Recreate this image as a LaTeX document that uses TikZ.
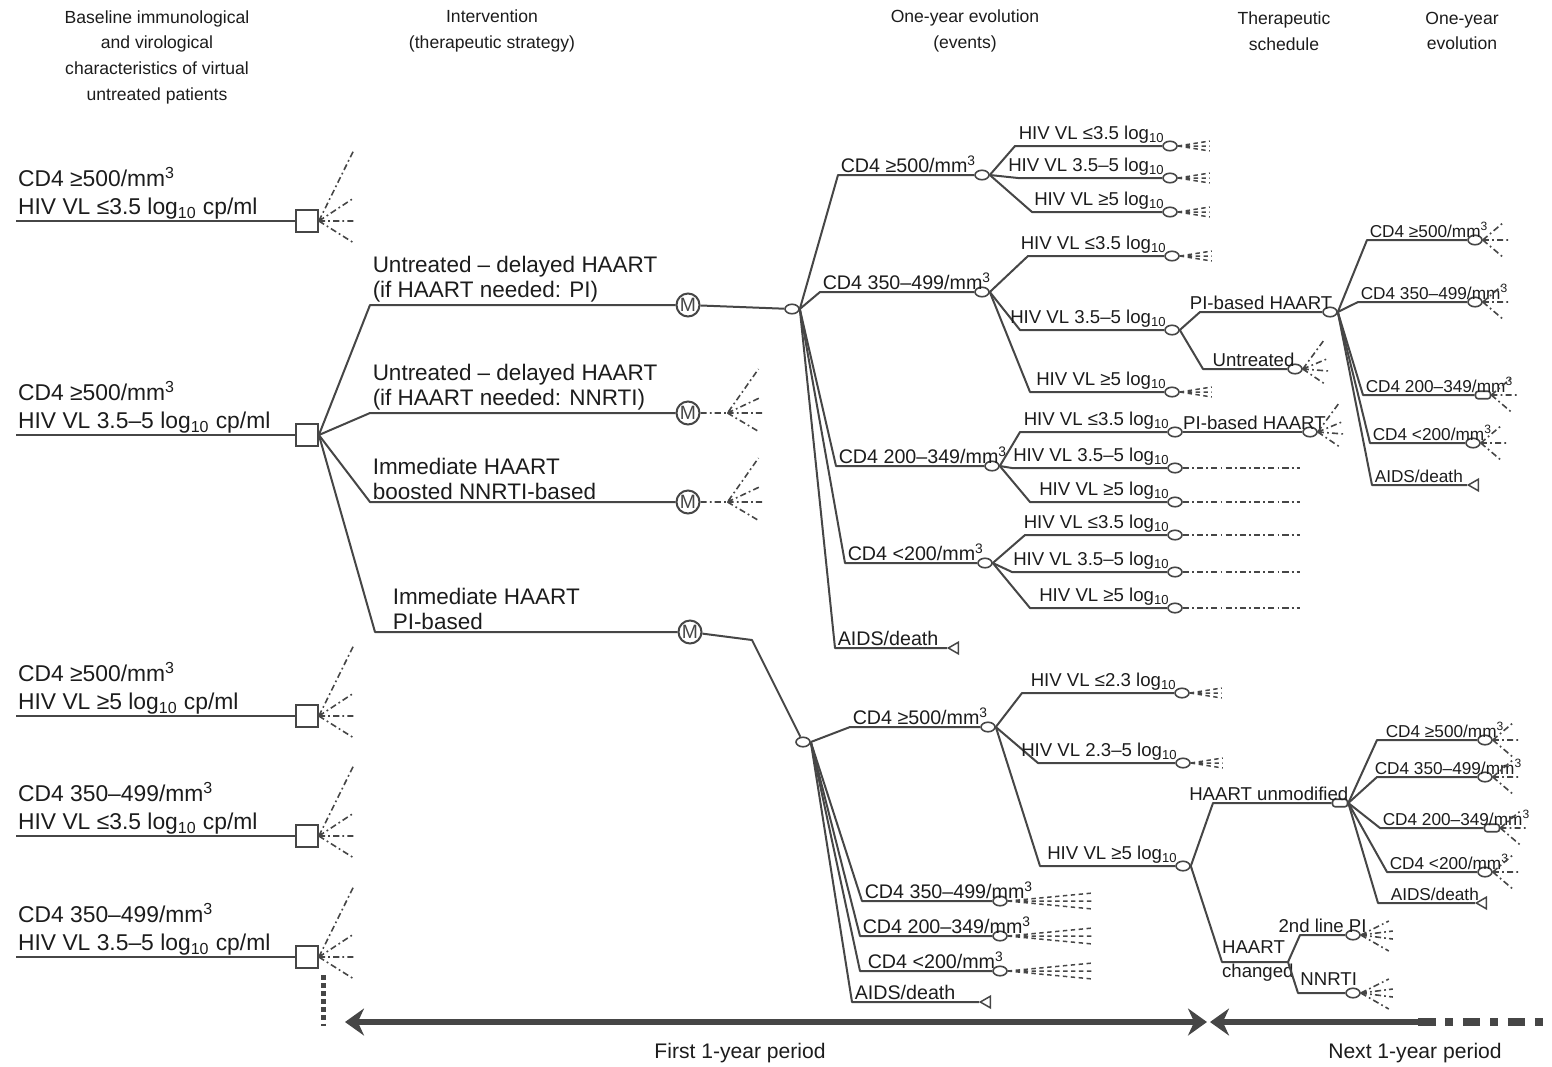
\documentclass[tikz,border=0pt]{standalone}
\usepackage{fontspec}
\setmainfont{Liberation Sans}
\usetikzlibrary{shapes.geometric,arrows.meta}

\definecolor{treegray}{RGB}{70,70,70}
\definecolor{inkgray}{RGB}{28,28,28}

\newcommand{\fhead}{\fontsize{10}{14.6}\selectfont}
\newcommand{\fbase}{\fontsize{13}{16}\selectfont}
\newcommand{\fstrat}{\fontsize{12.8}{14.2}\selectfont}
\newcommand{\fevt}{\fontsize{11.2}{13}\selectfont}
\newcommand{\fhiv}{\fontsize{10.6}{13.6}\selectfont}
\newcommand{\frgt}{\fontsize{9.8}{11}\selectfont}
\newcommand{\lgten}{log\textsubscript{10}}
\newcommand{\permm}{/mm\textsuperscript{3}}

\tikzset{
  branchline/.style={draw=treegray, line width=0.04cm, line join=round},
  fanline/.style={draw=treegray, line width=0.032cm, dash pattern=on 3.5pt off 1.8pt on 1pt off 1.8pt},
  stubline/.style={draw=treegray, line width=0.03cm, dash pattern=on 2.5pt off 2pt},
  headlbl/.style={font=\fhead, text=inkgray, align=center, inner sep=0pt},
  baselbl/.style={font=\fbase, text=inkgray, align=left, inner sep=1pt, anchor=south west},
  strat/.style={font=\fstrat, text=inkgray, align=left, inner sep=1pt},
  evt/.style={font=\fevt, text=inkgray, inner sep=1pt},
  sched/.style={font=\fhiv, text=inkgray, inner sep=1pt},
  hiv/.style={font=\fhiv, text=inkgray, inner sep=1pt, pos=1, above left, xshift=0.1cm},
  rgt/.style={font=\frgt, text=inkgray, inner sep=1pt},
  decision/.style={rectangle, draw=treegray, fill=white, line width=0.035cm, minimum size=0.44cm, inner sep=0pt},
  markov/.style={circle, draw=treegray, line width=0.04cm, minimum size=0.46cm, inner sep=0pt, font=\fontsize{11}{11}\selectfont, text=treegray},
  chance/.style={ellipse, draw=treegray, fill=white, line width=0.032cm, minimum width=0.28cm, minimum height=0.19cm, inner sep=0pt},
  chancebox/.style={rectangle, rounded corners=1.5pt, draw=treegray, fill=white, line width=0.032cm, minimum width=0.3cm, minimum height=0.15cm, inner sep=0pt},
  terminal/.style={isosceles triangle, isosceles triangle apex angle=60, shape border rotate=180, draw=treegray, line width=0.03cm, minimum height=0.2cm, inner sep=0pt},
  periodline/.style={draw=treegray, line width=0.11cm},
  bigfan/.pic={\draw[fanline] (0,0) -- (35,-71) (0,0) -- (35,-23) (0,0) -- (36,0) (0,0) -- (35,22);},
  mfan/.pic={\draw[fanline] (0,0) -- (27,0) -- (58,-44) (27,0) -- (61,-16) (27,0) -- (64,0) (27,0) -- (59,19);},
  smallfan/.pic={\draw[fanline] (0,0) -- (20,-17) (0,0) -- (27,0) (0,0) -- (20,17);},
  upfan/.pic={\draw[fanline] (0,0) -- (22,-30) (0,0) -- (24,-10) (0,0) -- (26,2) (0,0) -- (22,15);},
  densefan/.pic={\draw[fanline] (0,0) -- (28,-14) (0,0) -- (32,-4) (0,0) -- (32,4) (0,0) -- (28,16);},
  stub/.pic={\draw[stubline] (0,0) -- (32,-5) (0,0) -- (32,0) (0,0) -- (32,5);},
  longstub/.pic={\draw[stubline] (0,0) -- (85,-8) (0,0) -- (85,0) (0,0) -- (85,8);},
}

\begin{document}
\begin{tikzpicture}[x=0.02cm, y=-0.02cm]
\useasboundingbox (0,0) rectangle (1552,1066);

% Column headings
\node[headlbl] (hdBase) at (157,57) {Baseline immunological\\and virological\\characteristics of virtual\\untreated patients};
\node[headlbl] (hdStrat) at (492,31) {Intervention\\(therapeutic strategy)};
\node[headlbl] (hdEvt) at (965,31) {One-year evolution\\(events)};
\node[headlbl] (hdSched) at (1284,31) {Therapeutic\\schedule};
\node[headlbl] (hdNext) at (1462,31) {One-year\\evolution};

% Virtual patients at baseline
\node[decision] (d1) at (307,221) {};
\node[decision] (d2) at (307,435) {};
\node[decision] (d3) at (307,716) {};
\node[decision] (d4) at (307,836) {};
\node[decision] (d5) at (307,957) {};
\coordinate (s1) at (16,0 |- d1);
\coordinate (s2) at (16,0 |- d2);
\coordinate (s3) at (16,0 |- d3);
\coordinate (s4) at (16,0 |- d4);
\coordinate (s5) at (16,0 |- d5);
\draw[branchline] (s1) -- (d1);
\draw[branchline] (s2) -- (d2);
\draw[branchline] (s3) -- (d3);
\draw[branchline] (s4) -- (d4);
\draw[branchline] (s5) -- (d5);
\node[baselbl] (b1) at (s1) {CD4 ≥500\permm\\HIV VL ≤3.5 \lgten{} cp/ml};
\node[baselbl] (b2) at (s2) {CD4 ≥500\permm\\HIV VL 3.5–5 \lgten{} cp/ml};
\node[baselbl] (b3) at (s3) {CD4 ≥500\permm\\HIV VL ≥5 \lgten{} cp/ml};
\node[baselbl] (b4) at (s4) {CD4 350–499\permm\\HIV VL ≤3.5 \lgten{} cp/ml};
\node[baselbl] (b5) at (s5) {CD4 350–499\permm\\HIV VL 3.5–5 \lgten{} cp/ml};
\pic at (d1.east) {bigfan};
\pic at (d3.east) {bigfan};
\pic at (d4.east) {bigfan};
\pic at (d5.east) {bigfan};

% More patient profiles below
\draw[treegray, line width=0.1cm, dash pattern=on 2.6pt off 2pt] (323,975) -- (323,1026);

% Therapeutic strategies
\node[markov] (m1) at (688,305) {M};
\node[markov] (m2) at (688,413) {M};
\node[markov] (m3) at (688,502) {M};
\node[markov] (m4) at (690,632) {M};
\draw[branchline] (d2.east) -- (370,0 |- m1) node[strat, above right] (sPI) {Untreated – delayed HAART\\(if HAART needed: PI)} -- (m1);
\draw[branchline] (d2.east) -- (370,0 |- m2) node[strat, above right] (sNN) {Untreated – delayed HAART\\(if HAART needed: NNRTI)} -- (m2);
\draw[branchline] (d2.east) -- (370,0 |- m3) node[strat, above right] (sBoost) {Immediate HAART\\boosted NNRTI-based} -- (m3);
\draw[branchline] (d2.east) -- (375,0 |- m4) node[strat, above right, xshift=0.3cm] (sImm) {Immediate HAART\\PI-based} -- (m4);
\pic at (m2.east) {mfan};
\pic at (m3.east) {mfan};

% One-year events, delayed HAART (PI)
\node[chance] (c1) at (792,309) {};
\draw[branchline] (m1) -- (c1);
\node[chance] (e1) at (982,175) {};
\node[chance] (e2) at (982,292) {};
\node[chance] (e3) at (992,466) {};
\node[chance] (e4) at (985,563) {};
\node[terminal] (e5) at (955,648) {};
\draw[branchline] (c1.east) -- (838,0 |- e1) node[evt, above right] (le1) {CD4 ≥500\permm} -- (e1);
\draw[branchline] (c1.east) -- (820,0 |- e2) node[evt, above right] (le2) {CD4 350–499\permm} -- (e2);
\draw[branchline] (c1.east) -- (836,0 |- e3) node[evt, above right] (le3) {CD4 200–349\permm} -- (e3);
\draw[branchline] (c1.east) -- (845,0 |- e4) node[evt, above right] (le4) {CD4 <200\permm} -- (e4);
\draw[branchline] (c1.east) -- (835,0 |- e5) node[evt, above right] (le5) {AIDS/death} -- (e5.apex);

% Viral load, CD4 >=500
\node[chance] (h11) at (1170,146) {};
\node[chance] (h12) at (1170,178) {};
\node[chance] (h13) at (1170,212) {};
\draw[branchline] (e1.east) -- (1015,0 |- h11) -- node[hiv] (lh11) {HIV VL ≤3.5 \lgten} (h11);
\draw[branchline] (e1.east) -- (1018,0 |- h12) -- node[hiv] (lh12) {HIV VL 3.5–5 \lgten} (h12);
\draw[branchline] (e1.east) -- (1032,0 |- h13) -- node[hiv] (lh13) {HIV VL ≥5 \lgten} (h13);
\pic at (h11.east) {stub};
\pic at (h12.east) {stub};
\pic at (h13.east) {stub};

% Viral load, CD4 350-499
\node[chance] (h21) at (1172,256) {};
\node[chance] (h22) at (1172,330) {};
\node[chance] (h23) at (1172,392) {};
\draw[branchline] (e2.east) -- (1028,0 |- h21) -- node[hiv] (lh21) {HIV VL ≤3.5 \lgten} (h21);
\draw[branchline] (e2.east) -- (1020,0 |- h22) -- node[hiv] (lh22) {HIV VL 3.5–5 \lgten} (h22);
\draw[branchline] (e2.east) -- (1030,0 |- h23) -- node[hiv] (lh23) {HIV VL ≥5 \lgten} (h23);
\pic at (h21.east) {stub};
\pic at (h23.east) {stub};

% Therapeutic schedule, CD4 350-499 and HIV VL 3.5-5
\node[chance] (t1) at (1330,312) {};
\node[chance] (t2) at (1295,369) {};
\draw[branchline] (h22.east) -- (1200,0 |- t1) -- node[sched, above] (lt1) {PI-based HAART} (t1);
\draw[branchline] (h22.east) -- (1203,0 |- t2) -- node[sched, above, pos=0.6] (lt2) {Untreated} (t2);
\pic at (t2.east) {upfan};

% One-year evolution, PI-based HAART
\node[chance] (r1) at (1475,240) {};
\node[chance] (r2) at (1475,302) {};
\node[chancebox] (r3) at (1483,395) {};
\node[chance] (r4) at (1473,443) {};
\node[terminal] (r5) at (1475,485) {};
\draw[branchline] (t1.east) -- (1367,0 |- r1) node[rgt, above right] (lr1) {CD4 ≥500\permm} -- (r1);
\draw[branchline] (t1.east) -- (1358,0 |- r2) node[rgt, above right] (lr2) {CD4 350–499\permm} -- (r2);
\draw[branchline] (t1.east) -- (1363,0 |- r3) node[rgt, above right] (lr3) {CD4 200–349\permm} -- (r3);
\draw[branchline] (t1.east) -- (1370,0 |- r4) node[rgt, above right] (lr4) {CD4 <200\permm} -- (r4);
\draw[branchline] (t1.east) -- (1372,0 |- r5) node[rgt, above right] (lr5) {AIDS/death} -- (r5.apex);
\pic at (r1.east) {smallfan};
\pic at (r2.east) {smallfan};
\pic at (r3.east) {smallfan};
\pic at (r4.east) {smallfan};

% Viral load, CD4 200-349
\node[chance] (h31) at (1175,432) {};
\node[chance] (h32) at (1175,468) {};
\node[chance] (h33) at (1175,502) {};
\draw[branchline] (e3.east) -- (1020,0 |- h31) -- node[hiv] (lh31) {HIV VL ≤3.5 \lgten} (h31);
\draw[branchline] (e3.east) -- (1012,0 |- h32) -- node[hiv] (lh32) {HIV VL 3.5–5 \lgten} (h32);
\draw[branchline] (e3.east) -- (1030,0 |- h33) -- node[hiv] (lh33) {HIV VL ≥5 \lgten} (h33);
\node[chance] (p1) at (1310,432) {};
\draw[branchline] (h31) -- node[sched, above, pos=0.6] (lp1) {PI-based HAART} (p1);
\pic at (p1.east) {upfan};
\draw[fanline] (h32.east) -- (1300,0 |- h32);
\draw[fanline] (h33.east) -- (1300,0 |- h33);

% Viral load, CD4 <200
\node[chance] (h41) at (1175,535) {};
\node[chance] (h42) at (1175,572) {};
\node[chance] (h43) at (1175,608) {};
\draw[branchline] (e4.east) -- (1025,0 |- h41) -- node[hiv] (lh41) {HIV VL ≤3.5 \lgten} (h41);
\draw[branchline] (e4.east) -- (1012,0 |- h42) -- node[hiv] (lh42) {HIV VL 3.5–5 \lgten} (h42);
\draw[branchline] (e4.east) -- (1030,0 |- h43) -- node[hiv] (lh43) {HIV VL ≥5 \lgten} (h43);
\draw[fanline] (h41.east) -- (1300,0 |- h41);
\draw[fanline] (h42.east) -- (1300,0 |- h42);
\draw[fanline] (h43.east) -- (1300,0 |- h43);

% One-year events, immediate HAART (PI)
\node[chance] (c2) at (803,742) {};
\draw[branchline] (m4) -- ++(62,8) -- (c2);
\node[chance] (f1) at (988,727) {};
\node[chance] (f2) at (1000,901) {};
\node[chance] (f3) at (1000,936) {};
\node[chance] (f4) at (1000,971) {};
\node[terminal] (f5) at (987,1002) {};
\draw[branchline] (c2.east) -- (850,0 |- f1) node[evt, above right] (lf1) {CD4 ≥500\permm} -- (f1);
\draw[branchline] (c2.east) -- (862,0 |- f2) node[evt, above right] (lf2) {CD4 350–499\permm} -- (f2);
\draw[branchline] (c2.east) -- (860,0 |- f3) node[evt, above right] (lf3) {CD4 200–349\permm} -- (f3);
\draw[branchline] (c2.east) -- (860,0 |- f4) node[evt, above right, xshift=0.1cm] (lf4) {CD4 <200\permm} -- (f4);
\draw[branchline] (c2.east) -- (852,0 |- f5) node[evt, above right] (lf5) {AIDS/death} -- (f5.apex);
\pic at (f2.east) {longstub};
\pic at (f3.east) {longstub};
\pic at (f4.east) {longstub};

% Viral load, CD4 >=500 under PI-based HAART
\node[chance] (g1) at (1182,693) {};
\node[chance] (g2) at (1183,763) {};
\node[chance] (g3) at (1183,866) {};
\draw[branchline] (f1.east) -- (1022,0 |- g1) -- node[hiv] (lg1) {HIV VL ≤2.3 \lgten} (g1);
\draw[branchline] (f1.east) -- (1038,0 |- g2) -- node[hiv] (lg2) {HIV VL 2.3–5 \lgten} (g2);
\draw[branchline] (f1.east) -- (1040,0 |- g3) -- node[hiv] (lg3) {HIV VL ≥5 \lgten} (g3);
\pic at (g1.east) {stub};
\pic at (g2.east) {stub};

% Therapeutic schedule, HIV VL >=5
\node[chancebox] (k1) at (1340,803) {};
\coordinate (kc) at (1288,962);
\draw[branchline] (g3.east) -- (1213,0 |- k1) -- node[sched, above, pos=0.47] (lk1) {HAART unmodified} (k1);
\draw[branchline] (g3.east) -- (1222,0 |- kc) -- (kc);
\node[sched, align=left, anchor=west] (lk2) at (1220,961) {HAART\\changed};
\node[chance] (q1) at (1353,935) {};
\node[chance] (q2) at (1353,993) {};
\draw[branchline] (kc) -- (1300,0 |- q1) -- node[sched, above] (lq1) {2nd line PI} (q1);
\draw[branchline] (kc) -- (1298,0 |- q2) -- node[sched, above, pos=0.65, yshift=0.1cm] (lq2) {NNRTI} (q2);
\pic at (q1.east) {densefan};
\pic at (q2.east) {densefan};

% One-year evolution, HAART unmodified
\node[chance] (u1) at (1485,740) {};
\node[chance] (u2) at (1485,777) {};
\node[chancebox] (u3) at (1492,828) {};
\node[chance] (u4) at (1485,872) {};
\node[terminal] (u5) at (1483,903) {};
\draw[branchline] (k1.east) -- (1377,0 |- u1) node[rgt, above right, xshift=0.12cm] (lu1) {CD4 ≥500\permm} -- (u1);
\draw[branchline] (k1.east) -- (1377,0 |- u2) node[rgt, above right, xshift=-0.1cm] (lu2) {CD4 350–499\permm} -- (u2);
\draw[branchline] (k1.east) -- (1380,0 |- u3) node[rgt, above right] (lu3) {CD4 200–349\permm} -- (u3);
\draw[branchline] (k1.east) -- (1387,0 |- u4) node[rgt, above right] (lu4) {CD4 <200\permm} -- (u4);
\draw[branchline] (k1.east) -- (1378,0 |- u5) node[rgt, above right, xshift=0.2cm] (lu5) {AIDS/death} -- (u5.apex);
\pic at (u1.east) {smallfan};
\pic at (u2.east) {smallfan};
\pic at (u3.east) {smallfan};
\pic at (u4.east) {smallfan};

% Time periods
\coordinate (tA) at (345,1022);
\coordinate (tB) at (1207,1022);
\coordinate (tC) at (1210,1022);
\coordinate (tD) at (1418,1022);
\coordinate (tE) at (1552,1022);
\draw[periodline, {Stealth[length=0.38cm,width=0.54cm]}-{Stealth[length=0.38cm,width=0.54cm]}] (tA) -- (tB);
\draw[periodline, {Stealth[length=0.38cm,width=0.54cm]}-] (tC) -- (tD);
\draw[treegray, line width=0.15cm, dash pattern=on 10pt off 5.5pt on 4.5pt off 5.5pt] (tD) -- (tE);
\node[evt, font=\fontsize{12}{14}\selectfont] (pFirst) at (740,1053) {First 1-year period};
\node[evt, font=\fontsize{12}{14}\selectfont] (pNext) at (1415,1053) {Next 1-year period};
\end{tikzpicture}
\end{document}
